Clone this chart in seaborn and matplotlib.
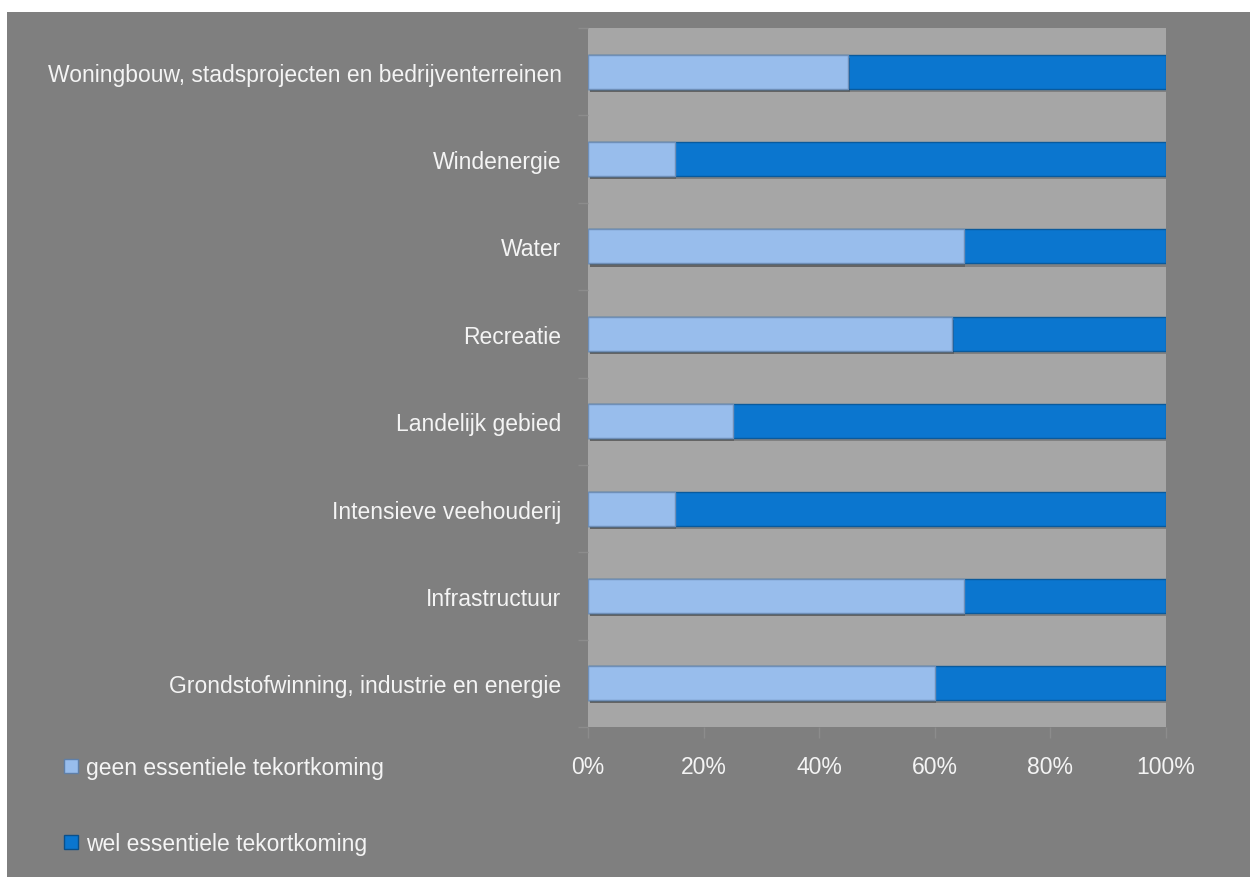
import matplotlib
matplotlib.use("Agg")
import matplotlib.pyplot as plt
import matplotlib.patheffects as pe
from matplotlib.patches import Patch, Rectangle
import seaborn as sns
import pandas as pd
import numpy as np

categories = [
    "Woningbouw, stadsprojecten en bedrijventerreinen",
    "Windenergie",
    "Water",
    "Recreatie",
    "Landelijk gebied",
    "Intensieve veehouderij",
    "Infrastructuur",
    "Grondstofwinning, industrie en energie",
]
geen = [45, 15, 65, 63, 25, 15, 65, 60]
wel = [55, 85, 35, 37, 75, 85, 35, 40]
series_labels = ["geen essentiele tekortkoming", "wel essentiele tekortkoming"]
xticks = [0, 20, 40, 60, 80, 100]
xtick_labels = ["0%", "20%", "40%", "60%", "80%", "100%"]

LIGHT = "#98bdec"
DARK = "#0b76cf"
FIG_BG = "#7f7f7f"
AX_BG = "#a6a6a6"
TXT = "#f4f4f4"
FS = 16.5

sns.set_theme(style="white")
plt.rcParams["font.family"] = ["Liberation Sans", "DejaVu Sans"]

df = pd.DataFrame({"cat": categories, "geen": geen, "wel": wel})
df["total"] = df["geen"] + df["wel"]

fig = plt.figure(figsize=(12.5, 8.78), dpi=100)
fig.patch.set_facecolor("white")
fig.patches.append(Rectangle((7 / 1250, 0), 1, 1 - 13 / 878, transform=fig.transFigure,
                             facecolor=FIG_BG, edgecolor="none", zorder=-10))

ax = fig.add_axes([588 / 1250, 1 - 728 / 878, (1166 - 588) / 1250, (728 - 29) / 878])
ax.set_facecolor(AX_BG)

shadow = [pe.SimplePatchShadow(offset=(1.2, -2.2), shadow_rgbFace="black", alpha=0.22), pe.Normal()]

sns.barplot(data=df, x="total", y="cat", color=DARK, saturation=1, width=0.39,
            edgecolor="#0a5a9c", linewidth=1.0, ax=ax)
sns.barplot(data=df, x="geen", y="cat", color=LIGHT, saturation=1, width=0.39,
            edgecolor="#6f8fb8", linewidth=1.0, ax=ax)
for p in ax.patches:
    p.set_path_effects(shadow)

ax.set_xlim(0, 100)
ax.set_ylim(len(categories) - 0.5, -0.5)
ax.set_xlabel("")
ax.set_ylabel("")
ax.set_xticks(xticks)
ax.set_xticklabels(xtick_labels, fontsize=FS, color=TXT)
ax.tick_params(axis="x", which="major", length=8, width=1, color="#8c8c8c", pad=12, direction="out",
               bottom=True)
ax.set_yticks(range(len(categories)))
ax.set_yticklabels(categories, fontsize=FS, color=TXT)
ax.tick_params(axis="y", which="major", length=0, pad=19)
ax.set_yticks(np.arange(-0.5, len(categories), 1), minor=True)
ax.tick_params(axis="y", which="minor", length=7, width=1, color="#8c8c8c", left=True)
for s in ax.spines.values():
    s.set_visible(False)

handles = [Patch(facecolor=LIGHT, edgecolor="#5f7fa8"), Patch(facecolor=DARK, edgecolor="#0a4f8a")]
fig.legend(handles, series_labels, loc="upper left", bbox_to_anchor=(55 / 1250, 1 - 748 / 878),
           frameon=False, fontsize=FS, labelcolor=TXT, handlelength=0.6, handleheight=0.6,
           handletextpad=0.35, labelspacing=2.3, borderaxespad=0)

fig.savefig("out.png", dpi=100, facecolor=fig.get_facecolor())
